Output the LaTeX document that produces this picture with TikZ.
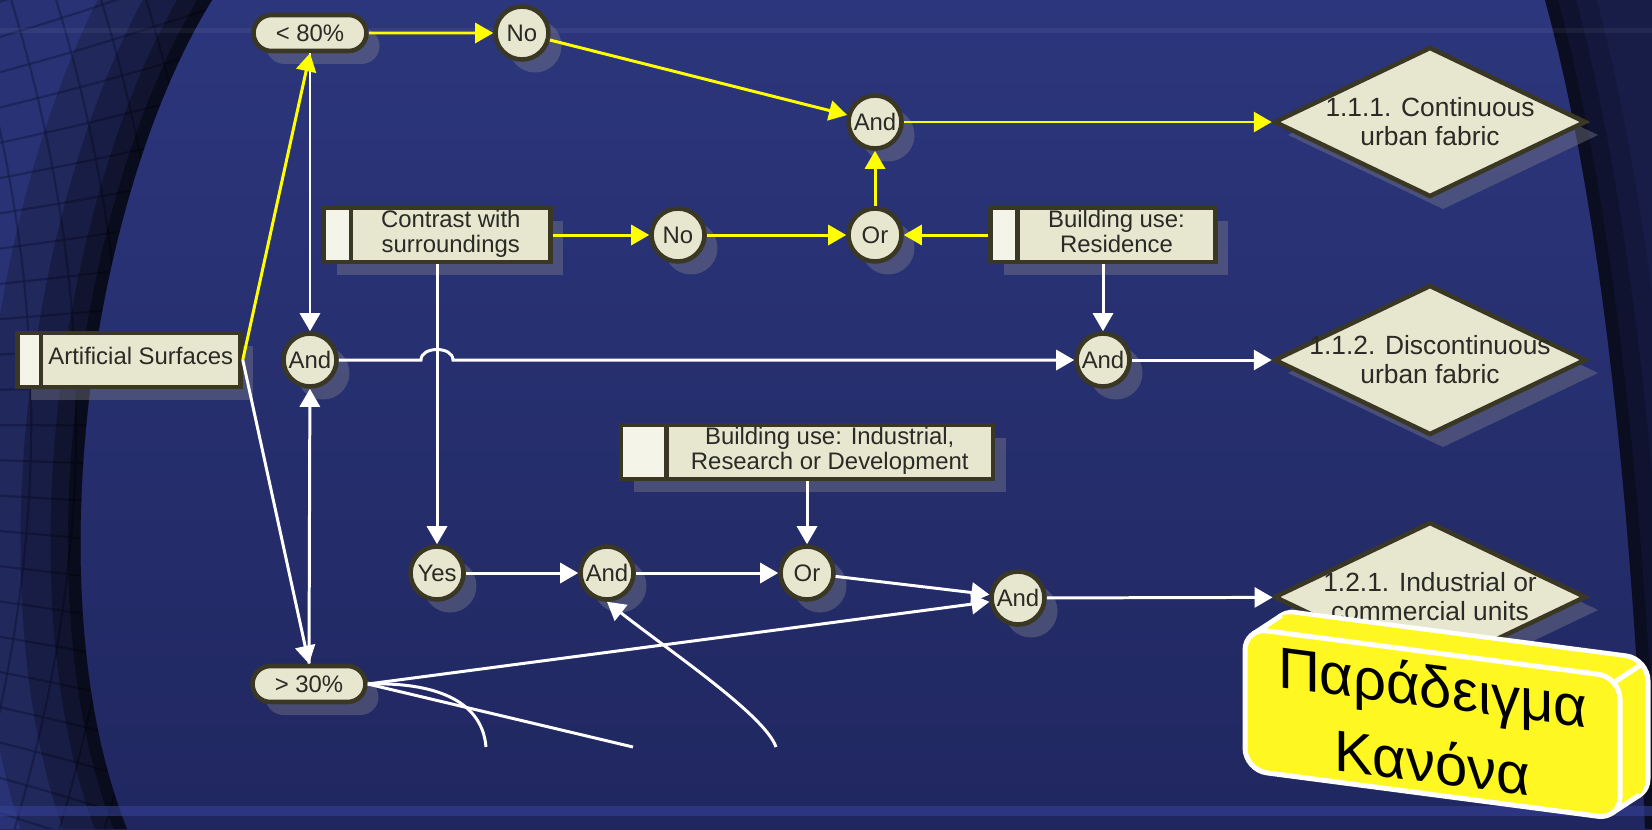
\documentclass[tikz,border=0pt]{standalone}
\usepackage{fontspec}
\setmainfont{Liberation Sans}
\usetikzlibrary{arrows.meta,calc,shapes.geometric,shapes.misc,shadows}
\definecolor{bgtop}{RGB}{44,54,124}
\definecolor{bgbottom}{RGB}{32,39,96}
\definecolor{globeblue}{RGB}{40,50,116}
\definecolor{gridblue}{RGB}{22,28,74}
\definecolor{edgeblue}{RGB}{24,29,72}
\definecolor{bandblue}{RGB}{52,64,150}
\definecolor{cream}{RGB}{231,230,206}
\definecolor{tabcream}{RGB}{245,244,232}
\definecolor{rim}{RGB}{58,56,36}
\definecolor{ink}{RGB}{42,42,38}
\definecolor{hotyellow}{RGB}{255,255,0}
\definecolor{lemon}{RGB}{255,247,34}
\definecolor{shadowgray}{RGB}{128,128,140}
\newcommand{\gatefont}{\fontsize{13.6}{14.2}\selectfont}
\newcommand{\classfont}{\fontsize{15}{16.5}\selectfont}
\newcommand{\signfont}{\fontsize{33}{43}\selectfont}
\newcommand{\boxlines}[2]{\hspace*{#1}\begin{tabular}{@{}c@{}}#2\end{tabular}}
\tikzset{
  castshadow/.style={drop shadow={shadow xshift=0.26cm, shadow yshift=-0.26cm, fill=shadowgray, opacity=0.4}},
  gate/.style={circle, draw=rim, line width=2.6pt, fill=cream, minimum size=1.06cm, inner sep=0pt, font=\gatefont, text=ink, castshadow},
  pill/.style={rounded rectangle, draw=rim, line width=2.6pt, fill=cream, minimum width=2.26cm, minimum height=0.72cm, inner sep=0pt, font=\gatefont, text=ink, castshadow},
  tabbox/.style={rectangle, draw=rim, line width=2.6pt, fill=cream, minimum height=1.08cm, inner xsep=0pt, inner ysep=1pt, font=\gatefont, text=ink, castshadow,
    path picture={
      \fill[tabcream] (path picture bounding box.north west) rectangle ([xshift=#1]path picture bounding box.south west);
      \draw[rim, line width=2.6pt] ([xshift=#1]path picture bounding box.north west) -- ([xshift=#1]path picture bounding box.south west);
    }},
  verdict/.style={diamond, draw=rim, line width=2.6pt, fill=cream, minimum width=6.24cm, minimum height=3cm, inner sep=0pt, castshadow},
  verdict text/.style={align=center, font=\classfont, text=ink},
  arrow/.style={-{Triangle[length=0.36cm, width=0.4cm]}, line width=1.7pt, white},
  hot/.style={arrow, hotyellow},
  wire/.style={line width=1.7pt, white}
}

\begin{document}
\begin{tikzpicture}[x=0.02cm, y=-0.02cm]
  \useasboundingbox (0,0) rectangle (1652,829);
  \clip (0,0) rectangle (1652,829);
  \shade[top color=bgtop, bottom color=bgbottom] (0,0) rectangle (1652,829);

  \begin{scope}
    \clip (0,0) -- (212,0) .. controls (88,200) and (35,600) .. (127,829) -- (0,829) -- cycle;
    \fill[globeblue] (0,0) rectangle (300,829);
    \foreach \a in {-130,-85,...,160}
      \draw[gridblue, line width=1.2pt, opacity=.6] (\a,-20) .. controls (\a+95,280) and (\a+95,560) .. (\a,860);
    \foreach \b in {-30,5,...,880}
      \draw[gridblue, line width=1.2pt, opacity=.6] (-10,\b) .. controls (90,{\b+0.08*(\b-420)}) .. (240,{\b+0.22*(\b-420)});
    \foreach \w/\o in {4/.2, 2.4/.25, 1.2/.3, 0.5/.4}
      \draw[black, line width=\w cm, opacity=\o] (212,0) .. controls (88,200) and (35,600) .. (127,829);
  \end{scope}

  \begin{scope}
    \clip (1545,0) .. controls (1600,200) and (1632,500) .. (1645,829) -- (1660,829) -- (1660,0) -- cycle;
    \fill[edgeblue] (1500,0) rectangle (1660,829);
    \foreach \w/\o in {2/.15, 1.2/.2, 0.5/.3}
      \draw[black, line width=\w cm, opacity=\o] (1545,0) .. controls (1600,200) and (1632,500) .. (1645,829);
  \end{scope}

  \draw[white, opacity=.05, line width=0.1cm] (0,30) -- (1652,30);
  \fill[bandblue, opacity=.6] (0,806) rectangle (1652,816);

  \node[pill] (p80) at (310,33) {< 80\%};
  \node[gate] (no1) at (522,33) {No};
  \node[gate] (and1) at (875,122) {And};
  \node[verdict, label={[verdict text]center:{1.1.1. Continuous\\urban fabric}}] (d111) at (1430,122) {};
  \node[tabbox=0.55cm, minimum width=4.54cm] (contrast) at (437,235) {\boxlines{0.55cm}{Contrast with\\surroundings}};
  \node[gate] (no2) at (678,235) {No};
  \node[gate] (or1) at (and1 |- contrast) {Or};
  \node[tabbox=0.54cm, minimum width=4.5cm] (resid) at (1103,235) {\boxlines{0.54cm}{Building use:\\Residence}};
  \node[tabbox=0.47cm, minimum width=4.46cm] (art) at (129,360) {\boxlines{0.47cm}{Artificial Surfaces}};
  \node[gate] (and0) at (p80 |- art) {And};
  \node[gate] (and2) at (resid |- art) {And};
  \node[verdict, label={[verdict text]center:{1.1.2. Discontinuous\\urban fabric}}] (d112) at (d111 |- art) {};
  \node[tabbox=0.91cm, minimum width=7.44cm] (indus) at (807,452) {\boxlines{0.91cm}{Building use: Industrial,\\Research or Development}};
  \node[gate] (yes) at (437,573) {Yes};
  \node[gate] (and3) at (607,573) {And};
  \node[gate] (or2) at (807,573) {Or};
  \node[gate] (and4) at (1018,598) {And};
  \node[verdict, label={[verdict text]center:{1.2.1. Industrial or\\commercial units}}] (d121) at (1430,597) {};
  \node[pill] (p30) at (309,684) {> 30\%};

  \coordinate (cut1) at (486,747);
  \coordinate (cut2) at (633,747);
  \coordinate (cut3) at (776,747);

  \draw[arrow] (p80.south) -- (and0);
  \draw[arrow] (art.east) -- (p30.north);
  \draw[arrow] (p30.north) -- (and0);
  \draw[arrow] (and0) -- ($(contrast.south |- and0)+(-16,0)$) .. controls +(0,-14) and +(0,-14) .. ($(contrast.south |- and0)+(16,0)$) -- (and2);
  \draw[arrow] (resid) -- (and2);
  \draw[arrow] (and2) -- (d112);
  \draw[arrow] (contrast) -- (yes);
  \draw[arrow] (yes) -- (and3);
  \draw[arrow] (and3) -- (or2);
  \draw[arrow] (indus) -- (or2);
  \draw[arrow] (or2) -- (and4);
  \draw[arrow] (p30.east) -- (and4);
  \draw[arrow] (and4) -- (d121);
  \draw[wire] (p30.east) .. controls (430,682) and (482,698) .. (cut1);
  \draw[wire] (p30.east) -- (cut2);
  \draw[arrow] (cut3) .. controls (765,715) and (668,650) .. (and3.south);

  \draw[hot] (art.east) -- (p80.south);
  \draw[hot] (p80) -- (no1);
  \draw[hot] (no1) -- (and1);
  \draw[hot] (and1) -- (d111);
  \draw[hot] (contrast) -- (no2);
  \draw[hot] (no2) -- (or1);
  \draw[hot] (resid) -- (or1);
  \draw[hot] (or1) -- (and1);

  \begin{scope}[shift={(1245,628)}, yslant=-0.131]
    \filldraw[lemon, draw=white, line width=0.1cm, rounded corners=0.44cm] (28,-22) rectangle +(375,142);
    \foreach \k in {9,...,1}
      \fill[lemon, rounded corners=0.44cm] (2.8*\k,-2.2*\k) rectangle +(375,142);
    \draw[white, line width=0.1cm] (8.4,4.7) -- +(28,-22) (368.6,6.4) -- +(28,-22) (366.6,137.3) -- +(28,-22);
    \filldraw[lemon, draw=white, line width=0.1cm, rounded corners=0.44cm] (0,0) rectangle (375,142);
    \node[align=center, font=\signfont, text=black, transform shape] (sign) at (187.5,71) {Παράδειγμα\\Κανόνα};
  \end{scope}
\end{tikzpicture}
\end{document}
